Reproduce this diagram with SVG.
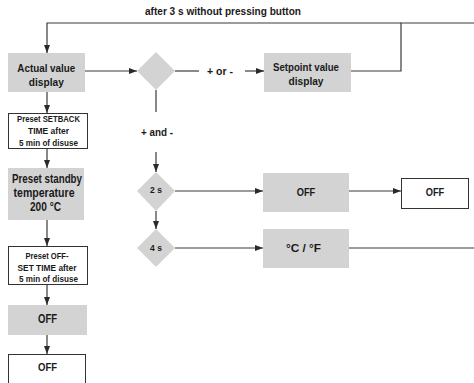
<svg xmlns="http://www.w3.org/2000/svg" width="474" height="383" viewBox="0 0 474 383">
<style>
.t{font-family:"Liberation Sans",Arial,sans-serif;font-weight:bold;fill:#1a1a1a;text-anchor:middle}
.g{fill:#d3d3d3;stroke:none}
.w{fill:#fff;stroke:#333;stroke-width:1}
.c{fill:none;stroke:#3a3a3a;stroke-width:1.2}
.d{fill:#d3d3d3}
</style>
<defs>
<marker id="a" markerUnits="userSpaceOnUse" markerWidth="8" markerHeight="6" refX="8" refY="3" orient="auto">
<path d="M0,0 L8,3 L0,6 Z" fill="#2a2a2a"/>
</marker>
</defs>
<text class="t" x="223" y="15" font-size="10" textLength="156" lengthAdjust="spacingAndGlyphs">after 3 s without pressing button</text>
<g id="connectors">
<path class="c" d="M351,71 H401 V23 H474"/>
<path class="c" d="M401,23 H47 V53" marker-end="url(#a)"/>
<path class="c" d="M85,71 H137" marker-end="url(#a)"/>
<path class="c" d="M175,71 H199"/>
<path class="c" d="M245,71 H264" marker-end="url(#a)"/>
<path class="c" d="M156,90 V112"/>
<path class="c" d="M156,152 V172" marker-end="url(#a)"/>
<path class="c" d="M156,211 V229" marker-end="url(#a)"/>
<path class="c" d="M175,191 H263" marker-end="url(#a)"/>
<path class="c" d="M349,191 H401" marker-end="url(#a)"/>
<path class="c" d="M175,248 H263" marker-end="url(#a)"/>
<path class="c" d="M349,248 H474"/>
<path class="c" d="M47,92 V113" marker-end="url(#a)"/>
<path class="c" d="M47,148 V168" marker-end="url(#a)"/>
<path class="c" d="M47,220 V246" marker-end="url(#a)"/>
<path class="c" d="M47,285 V305" marker-end="url(#a)"/>
<path class="c" d="M47,335 V354" marker-end="url(#a)"/>
</g>
<text class="t" x="220" y="75" font-size="10.5" textLength="26" lengthAdjust="spacingAndGlyphs">+ or -</text>
<text class="t" x="157" y="136" font-size="10.5" textLength="32" lengthAdjust="spacingAndGlyphs">+ and -</text>
<g id="actual">
<rect class="g" x="8" y="53" width="77" height="39"/>
<text class="t" x="46.3" y="71.7" font-size="11.5" textLength="58" lengthAdjust="spacingAndGlyphs">Actual value</text>
<text class="t" x="46.3" y="86" font-size="11.5" textLength="35" lengthAdjust="spacingAndGlyphs">display</text>
</g>
<g id="decision1">
<path class="d" d="M156,52 L175,71 L156,90 L137,71 Z"/>
</g>
<g id="setpoint">
<rect class="g" x="264" y="53" width="87" height="39"/>
<text class="t" x="306" y="71" font-size="11" textLength="66" lengthAdjust="spacingAndGlyphs">Setpoint value</text>
<text class="t" x="306" y="84.5" font-size="11" textLength="35" lengthAdjust="spacingAndGlyphs">display</text>
</g>
<g id="d2s">
<path class="d" d="M156,172 L175,191 L156,211 L137,191 Z"/>
<text class="t" x="156" y="193" font-size="8.5">2 s</text>
</g>
<g id="d4s">
<path class="d" d="M156,229 L175,248 L156,267 L137,248 Z"/>
<text class="t" x="156" y="251" font-size="8.5">4 s</text>
</g>
<g id="off-gray-right">
<rect class="g" x="263" y="173" width="86" height="39"/>
<text class="t" x="306" y="196" font-size="11" textLength="18.5" lengthAdjust="spacingAndGlyphs">OFF</text>
</g>
<g id="off-white-right">
<rect class="w" x="401.5" y="178.5" width="67" height="30"/>
<text class="t" x="435" y="196" font-size="11" textLength="18.5" lengthAdjust="spacingAndGlyphs">OFF</text>
</g>
<g id="cf">
<rect class="g" x="263" y="229" width="86" height="39"/>
<text class="t" x="303.5" y="252" font-size="11" textLength="35" lengthAdjust="spacingAndGlyphs">°C / °F</text>
</g>
<g id="setback">
<rect class="w" x="8.5" y="113.5" width="79" height="35"/>
<text class="t" x="48.5" y="122.3" font-size="8.5" textLength="63" lengthAdjust="spacingAndGlyphs">Preset SETBACK</text>
<text class="t" x="48.5" y="134" font-size="8.5" textLength="41" lengthAdjust="spacingAndGlyphs">TIME after</text>
<text class="t" x="48.5" y="145.7" font-size="8.5" textLength="59" lengthAdjust="spacingAndGlyphs">5 min of disuse</text>
</g>
<g id="standby">
<rect class="g" x="8" y="168" width="76" height="52"/>
<text class="t" x="47" y="182.5" font-size="13" textLength="70" lengthAdjust="spacingAndGlyphs">Preset standby</text>
<text class="t" x="44" y="196.5" font-size="13" textLength="61" lengthAdjust="spacingAndGlyphs">temperature</text>
<text class="t" x="45.5" y="210.5" font-size="13" textLength="31" lengthAdjust="spacingAndGlyphs">200 °C</text>
</g>
<g id="offset">
<rect class="w" x="8.5" y="246.5" width="79" height="38"/>
<text class="t" x="47" y="259" font-size="8.5" textLength="43" lengthAdjust="spacingAndGlyphs">Preset OFF-</text>
<text class="t" x="47" y="271" font-size="8.5" textLength="59" lengthAdjust="spacingAndGlyphs">SET TIME after</text>
<text class="t" x="48.5" y="282" font-size="8.5" textLength="59" lengthAdjust="spacingAndGlyphs">5 min of disuse</text>
</g>
<g id="off-gray-left">
<rect class="g" x="8" y="305" width="79" height="30"/>
<text class="t" x="47.5" y="323" font-size="12" textLength="19" lengthAdjust="spacingAndGlyphs">OFF</text>
</g>
<g id="off-white-left">
<rect class="w" x="8.5" y="354.5" width="77" height="35"/>
<text class="t" x="47.5" y="371" font-size="11" textLength="19" lengthAdjust="spacingAndGlyphs">OFF</text>
</g>
</svg>
